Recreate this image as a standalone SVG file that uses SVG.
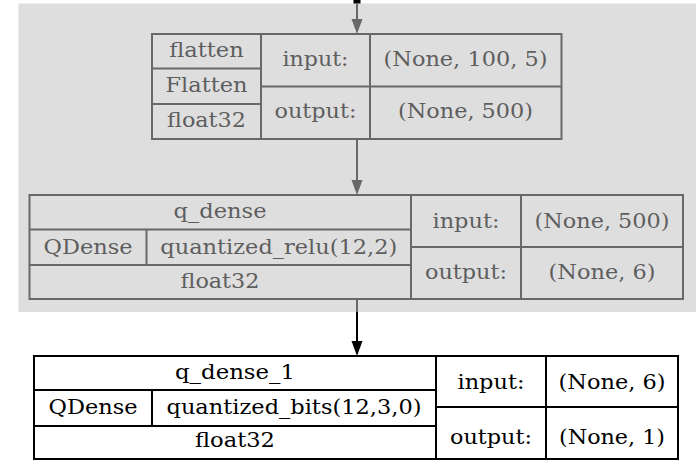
<svg xmlns="http://www.w3.org/2000/svg" width="696" height="460" viewBox="0 0 696 460">
<style>
text{font-family:"DejaVu Serif","Liberation Serif",serif;font-size:21px;text-anchor:middle}
.g line,.g rect{stroke:#686868;stroke-width:2;fill:none}
.g text{fill:#5e5e5e}
.k line,.k rect{stroke:#000;stroke-width:2;fill:none}
.k text{fill:#000}
.eg{stroke:#686868;stroke-width:2;fill:none}
.ek{stroke:#000;stroke-width:2;fill:none}
</style>
<rect x="0" y="0" width="696" height="460" fill="#fff"/>
<rect x="18.5" y="3.5" width="677.5" height="308.5" fill="#dedede"/>
<rect x="353.5" y="0" width="7" height="3.5" fill="#000"/>
<g id="connectors">
<line class="eg" x1="357" y1="3.5" x2="357" y2="20"/>
<path d="M351.5,19 L362.5,19 L357,34 Z" fill="#686868"/>
<line class="eg" x1="357" y1="139" x2="357" y2="181"/>
<path d="M351.5,180 L362.5,180 L357,195 Z" fill="#686868"/>
<line class="eg" x1="357" y1="299" x2="357" y2="312"/>
<line class="ek" x1="357" y1="312" x2="357" y2="342"/>
<path d="M351.5,341 L362.5,341 L357,356 Z" fill="#000"/>
</g>
<g id="flatten" class="g">
<rect x="152" y="34" width="409.5" height="105"/>
<line x1="261" y1="34" x2="261" y2="139"/>
<line x1="370" y1="34" x2="370" y2="139"/>
<line x1="152" y1="68.5" x2="261" y2="68.5"/>
<line x1="152" y1="104" x2="261" y2="104"/>
<line x1="261" y1="86.5" x2="561.5" y2="86.5"/>
<text x="206.5" y="57.3" textLength="74.5" lengthAdjust="spacingAndGlyphs">flatten</text>
<text x="206.5" y="92" textLength="82" lengthAdjust="spacingAndGlyphs">Flatten</text>
<text x="206.5" y="127" textLength="79" lengthAdjust="spacingAndGlyphs">float32</text>
<text x="315.5" y="65.5" textLength="66" lengthAdjust="spacingAndGlyphs">input:</text>
<text x="465.5" y="65.5" textLength="164" lengthAdjust="spacingAndGlyphs">(None, 100, 5)</text>
<text x="315.5" y="118" textLength="82" lengthAdjust="spacingAndGlyphs">output:</text>
<text x="465.5" y="118" textLength="135" lengthAdjust="spacingAndGlyphs">(None, 500)</text>
</g>
<g id="q_dense" class="g">
<rect x="29.5" y="195" width="653.5" height="104"/>
<line x1="411" y1="195" x2="411" y2="299"/>
<line x1="521" y1="195" x2="521" y2="299"/>
<line x1="29.5" y1="229.5" x2="411" y2="229.5"/>
<line x1="29.5" y1="265" x2="411" y2="265"/>
<line x1="146.5" y1="229.5" x2="146.5" y2="265"/>
<line x1="411" y1="247" x2="683" y2="247"/>
<text x="220" y="218" textLength="93" lengthAdjust="spacingAndGlyphs">q_dense</text>
<text x="88" y="254" textLength="89" lengthAdjust="spacingAndGlyphs">QDense</text>
<text x="278.8" y="254" textLength="237" lengthAdjust="spacingAndGlyphs">quantized_relu(12,2)</text>
<text x="220" y="288" textLength="79" lengthAdjust="spacingAndGlyphs">float32</text>
<text x="466" y="228" textLength="67" lengthAdjust="spacingAndGlyphs">input:</text>
<text x="602" y="228" textLength="135" lengthAdjust="spacingAndGlyphs">(None, 500)</text>
<text x="466" y="279" textLength="82" lengthAdjust="spacingAndGlyphs">output:</text>
<text x="602" y="279" textLength="107" lengthAdjust="spacingAndGlyphs">(None, 6)</text>
</g>
<g id="q_dense_1" class="k">
<rect x="34" y="356" width="644" height="103"/>
<line x1="436" y1="356" x2="436" y2="459"/>
<line x1="546" y1="356" x2="546" y2="459"/>
<line x1="34" y1="390" x2="436" y2="390"/>
<line x1="34" y1="426" x2="436" y2="426"/>
<line x1="152" y1="390" x2="152" y2="426"/>
<line x1="436" y1="407" x2="678" y2="407"/>
<text x="235" y="379" textLength="120" lengthAdjust="spacingAndGlyphs">q_dense_1</text>
<text x="93" y="414" textLength="89" lengthAdjust="spacingAndGlyphs">QDense</text>
<text x="294" y="414" textLength="255" lengthAdjust="spacingAndGlyphs">quantized_bits(12,3,0)</text>
<text x="235" y="446.5" textLength="80" lengthAdjust="spacingAndGlyphs">float32</text>
<text x="491" y="388.5" textLength="67" lengthAdjust="spacingAndGlyphs">input:</text>
<text x="612" y="388.5" textLength="107" lengthAdjust="spacingAndGlyphs">(None, 6)</text>
<text x="491" y="443.5" textLength="82" lengthAdjust="spacingAndGlyphs">output:</text>
<text x="612" y="443.5" textLength="106" lengthAdjust="spacingAndGlyphs">(None, 1)</text>
</g>
</svg>
